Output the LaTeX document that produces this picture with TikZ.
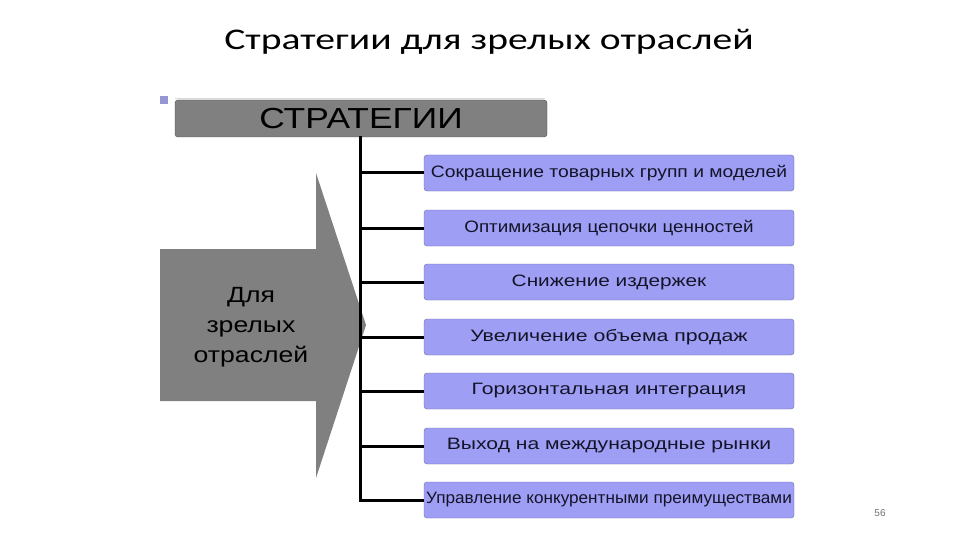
\documentclass[tikz,border=0pt]{standalone}
\usepackage{graphicx}
\usepackage{fontspec}
\setmainfont{Liberation Sans}
\newfontfamily\titlefont{Carlito}
\definecolor{boxfill}{RGB}{158,158,245}
\definecolor{boxtext}{RGB}{20,20,40}
\definecolor{bulletc}{RGB}{150,150,210}
\definecolor{boxline}{RGB}{110,110,170}
\newcommand{\hs}[2]{\scalebox{#1}[1]{#2}}
\begin{document}
\begin{tikzpicture}[x=1pt,y=-1pt,
  stratbox/.style={draw=boxline, fill=boxfill, rounded corners=3pt,
    minimum width=370pt, minimum height=36pt, inner sep=0pt, font=\fontsize{16.5}{18}\selectfont, text=boxtext},
  branch/.style={line width=3pt, black},
  lbl/.style={inner sep=0pt}]
\useasboundingbox (0,0) rectangle (960,540);
\fill[white] (0,0) rectangle (960,540);
% title
\node[lbl, font=\titlefont\fontsize{30}{34}\selectfont] (title) at (489,42) {\hs{1.32}{Стратегии для зрелых отраслей}};
% bullet
\fill[bulletc] (160,96) rectangle (168,104);
\draw[black!15, line width=1pt] (175,99) -- (545,99);
% header
\node[draw=black!70, fill=black!50, rounded corners=3pt, minimum width=372pt, minimum height=37pt, inner sep=0pt,
  font=\fontsize{29}{30}\selectfont] (head) at (361,118.5) {\hs{1.22}{СТРАТЕГИИ}};
% arrow
\fill[black!50] (160,249) -- (316,249) -- (316,173) -- (366,325) -- (316,478) -- (316,401) -- (160,401) -- cycle;
\node[lbl, align=center, font=\fontsize{22}{30}\selectfont] (arr) at (251,327) {\hs{1.21}{Для}\\\hs{1.21}{зрелых}\\\hs{1.21}{отраслей}};
% trunk
\coordinate (top) at (360,136);
\coordinate (bot) at (360,501.5);
\draw[branch] (top) -- (bot);
% boxes
\node[stratbox] (b1) at (609,173) {\hs{1.17}{Сокращение товарных групп и моделей}};
\node[stratbox] (b2) at (609,228) {\hs{1.14}{Оптимизация цепочки ценностей}};
\node[stratbox] (b3) at (609,282) {\hs{1.26}{Снижение издержек}};
\node[stratbox] (b4) at (609,337) {\hs{1.29}{Увеличение объема продаж}};
\node[stratbox] (b5) at (609,391) {\hs{1.28}{Горизонтальная интеграция}};
\node[stratbox] (b6) at (609,446) {\hs{1.28}{Выход на международные рынки}};
\node[stratbox] (b7) at (609,500) {\hs{1.04}{Управление конкурентными преимуществами}};
\foreach \b in {b1,b2,b3,b4,b5,b6,b7}{
  \draw[branch] (\b.west -| top) -- (\b.west);
}
% page number
\node[lbl, font=\fontsize{10}{12}\selectfont, text=black!55] (pg) at (880,513) {56};
\end{tikzpicture}
\end{document}
